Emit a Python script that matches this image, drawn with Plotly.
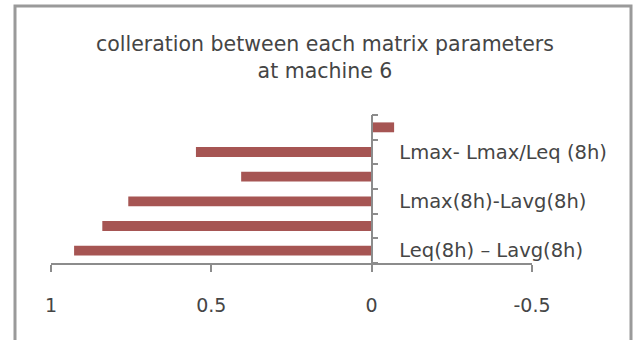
import plotly.graph_objects as go

# ---- data ----
categories = ["Leq(8h) – Lavg(8h)", "", "Lmax(8h)-Lavg(8h)", "", "Lmax- Lmax/Leq (8h)", ""]
values = [0.928, 0.84, 0.759, 0.407, 0.548, -0.07]
x_tick_vals = [1, 0.5, 0, -0.5]
x_tick_text = ["1", "0.5", "0", "-0.5"]
title_text = "colleration between each matrix parameters<br>at machine 6"

positions = list(range(len(categories)))
label_pos = [p for p, c in zip(positions, categories) if c]
label_txt = [c for c in categories if c]
boundaries = [p - 0.5 for p in positions] + [positions[-1] + 0.5]

x_range = [1, -0.5]
zero_pos = (x_range[0] - 0) / (x_range[0] - x_range[1])

FONT = "DejaVu Sans, Verdana, sans-serif"
TXT = "#454545"
AX = "#8c8c8c"

W, H = 633, 340
ml, mr, mt, mb = 51, 101, 115, 77

fig = go.Figure()
fig.add_trace(go.Bar(
    x=values, y=positions, orientation="h",
    marker=dict(color="#A65553", line=dict(width=0)),
    width=0.4, hoverinfo="x+y",
))

fig.update_layout(
    width=W, height=H,
    margin=dict(l=ml, r=mr, t=mt, b=mb, pad=0),
    paper_bgcolor="white", plot_bgcolor="white",
    showlegend=False,
    font=dict(family=FONT, color=TXT, size=18),
    title=dict(text=title_text, x=325 / W, xanchor="center",
               y=1 - 51 / H, yanchor="middle",
               font=dict(family=FONT, size=20.5, color=TXT)),
    xaxis=dict(
        range=x_range, tickvals=x_tick_vals, ticktext=x_tick_text,
        showgrid=False, zeroline=False, showline=True, linecolor=AX, linewidth=1.5,
        ticks="outside", ticklen=7, tickcolor=AX, tickwidth=1.5,
        ticklabelstandoff=17,
        tickfont=dict(family=FONT, size=19, color=TXT),
    ),
    yaxis=dict(
        range=[boundaries[0], boundaries[-1]],
        tickvals=label_pos, ticktext=label_txt,
        anchor="free", position=zero_pos, side="right",
        showgrid=False, zeroline=False, showline=True, linecolor=AX, linewidth=1.5,
        ticks="", ticklen=0, ticklabelstandoff=23,
        tickfont=dict(family=FONT, size=19.5, color=TXT),
        minor=dict(tickvals=boundaries, ticks="outside", ticklen=6,
                   tickcolor=AX, tickwidth=1.5, showgrid=False),
    ),
)

# outer chart frame (Excel chart border)
pw = W - ml - mr
ph = H - mt - mb
def px_x(px):
    return (px - ml) / pw
def px_y(py):
    return (H - mb - py) / ph

fig.add_shape(type="rect", xref="paper", yref="paper",
              x0=px_x(15), x1=px_x(631), y0=px_y(360), y1=px_y(6),
              line=dict(color="#9a9a9a", width=3), fillcolor="rgba(0,0,0,0)",
              layer="below")

fig.write_html("out.html")
